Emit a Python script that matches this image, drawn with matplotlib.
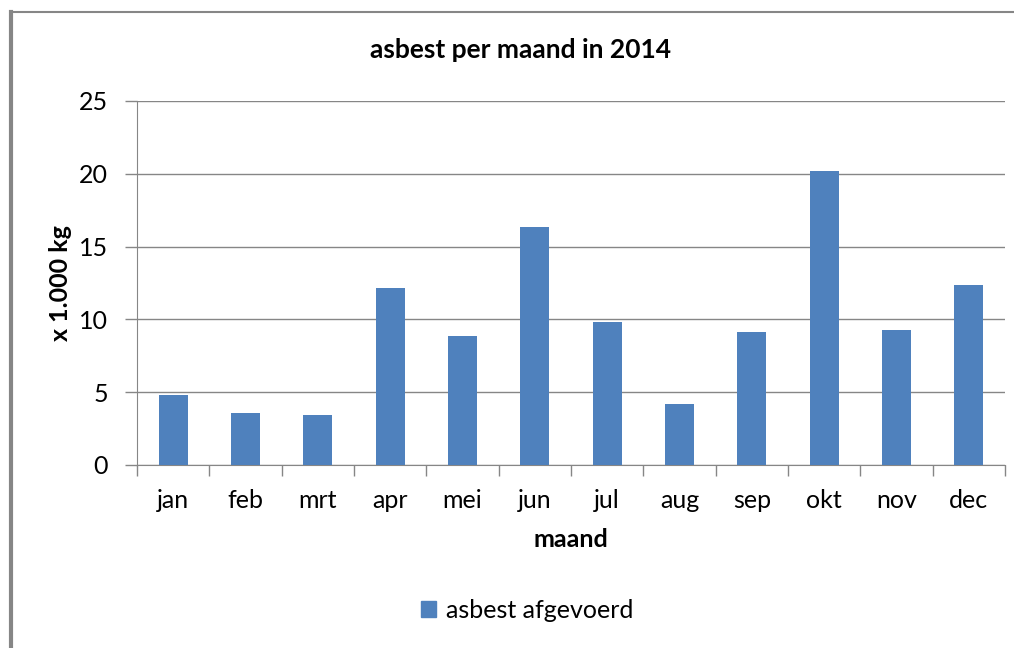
import matplotlib.pyplot as plt
from matplotlib.lines import Line2D
from matplotlib.patches import Patch

maanden = ['jan', 'feb', 'mrt', 'apr', 'mei', 'jun', 'jul', 'aug', 'sep', 'okt', 'nov', 'dec']
asbest = [4.8, 3.6, 3.4, 12.15, 8.85, 16.35, 9.8, 4.2, 9.15, 20.2, 9.25, 12.35]

plt.rcParams['font.family'] = ['Lato', 'DejaVu Sans']

fig = plt.figure(figsize=(10.14, 6.48), dpi=100)
ax = fig.add_axes([137 / 1014, 1 - 465 / 648, 868 / 1014, 364 / 648])

grijs = '#868686'
x = range(len(maanden))
ax.bar(x, asbest, width=0.4, color='#4f81bd', zorder=3)

ax.set_xlim(-0.5, len(maanden) - 0.5)
ax.set_ylim(0, 25)
ax.set_yticks([0, 5, 10, 15, 20, 25])
ax.set_xticks(x)
ax.set_xticklabels(maanden)
ax.set_xticks([i - 0.5 for i in range(len(maanden) + 1)], minor=True)
ax.tick_params(axis='x', which='major', length=0, pad=17, labelsize=18)
ax.tick_params(axis='x', which='minor', length=8, color=grijs, width=1)
ax.tick_params(axis='y', length=9, color=grijs, width=1, pad=12, labelsize=18)
ax.grid(axis='y', color=grijs, linewidth=1, zorder=0)

for s in ['top', 'right']:
    ax.spines[s].set_visible(False)
for s in ['left', 'bottom']:
    ax.spines[s].set_color(grijs)

fig.text(520 / 1014, 1 - 50 / 648, 'asbest per maand in 2014', fontsize=19,
         fontweight='bold', ha='center', va='center')
ax.set_xlabel('maand', fontsize=18, fontweight='bold', labelpad=12)
ax.set_ylabel('x 1.000 kg', fontsize=18, fontweight='bold', labelpad=5)

ax.legend(handles=[Patch(color='#4f81bd', label='asbest afgevoerd')],
          loc='center', bbox_to_anchor=(527 / 1014, 1 - 610 / 648),
          bbox_transform=fig.transFigure, frameon=False, fontsize=18,
          handlelength=0.6, handleheight=0.6, handletextpad=0.4)

# rand van de afbeelding (links en boven)
fig.add_artist(Line2D([11 / 1014, 11 / 1014], [0, 1 - 12 / 648], color=grijs, linewidth=3))
fig.add_artist(Line2D([11 / 1014, 1], [1 - 12 / 648, 1 - 12 / 648], color=grijs, linewidth=1.5))

fig.savefig('out.png', dpi=100)
